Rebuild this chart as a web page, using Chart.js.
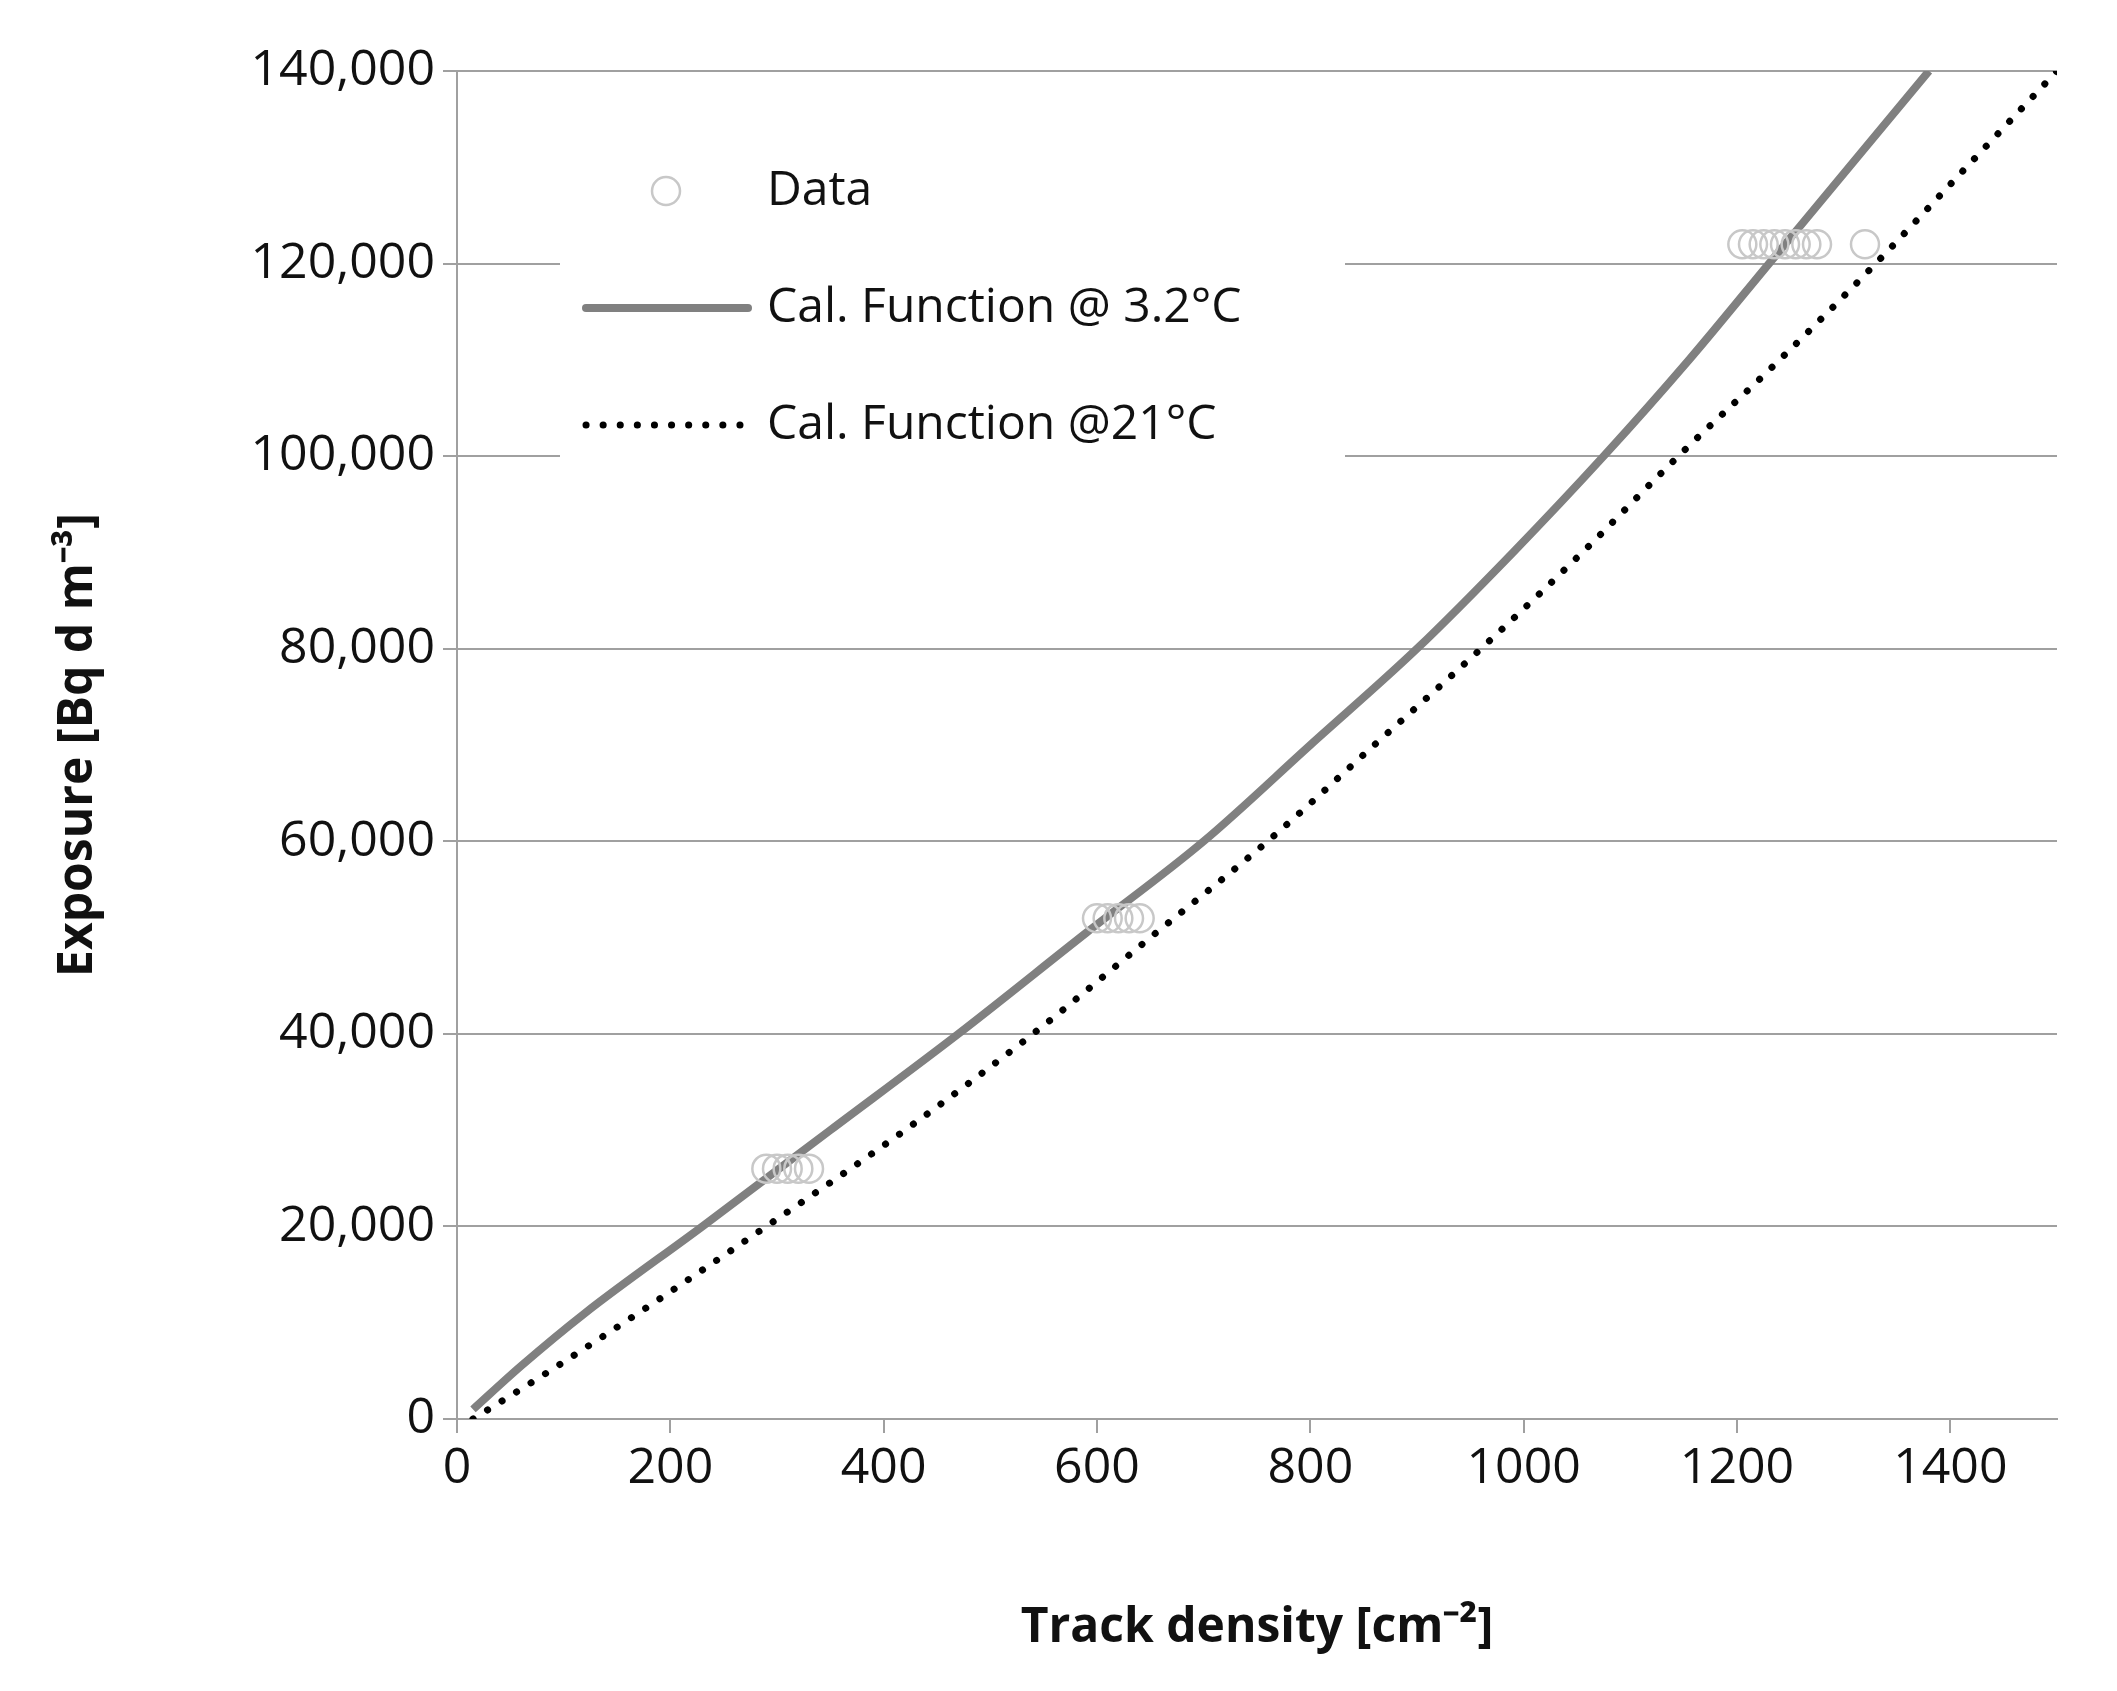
<!DOCTYPE html>
<html>
<head>
<meta charset="utf-8">
<script src="https://cdn.jsdelivr.net/npm/chart.js@4"></script>
<style>
html, body { margin: 0; padding: 0; background: #fff; }
#wrap { width: 2117px; height: 1691px; }
</style>
</head>
<body>
<div id="wrap"><canvas id="myChart" width="2117" height="1691"></canvas></div>
<script>
// calibration curves
const coldX = [15, 60, 120, 230, 350, 470, 590, 700, 800, 900, 990, 1075, 1155, 1230, 1305, 1380];
const coldY = [1000, 5500, 11000, 20000, 30000, 40000, 50500, 60000, 70000, 80000, 90000, 100000, 110000, 120000, 130000, 140000];
const warmX = [15, 80, 170, 290, 420, 540, 650, 760, 860, 960, 1055, 1145, 1240, 1330, 1415, 1500];
const warmY = [0, 4500, 11000, 20000, 30000, 40000, 50000, 60000, 70000, 80000, 90000, 100000, 110000, 120000, 130000, 140000];
const dataX = [290, 300, 310, 320, 330, 600, 610, 620, 630, 640, 1205, 1215, 1225, 1235, 1245, 1255, 1265, 1275, 1320];
const dataY = [26000, 26000, 26000, 26000, 26000, 52000, 52000, 52000, 52000, 52000, 122000, 122000, 122000, 122000, 122000, 122000, 122000, 122000, 122000];
const yTicks = [0, 20000, 40000, 60000, 80000, 100000, 120000, 140000];
const xTicks = [0, 200, 400, 600, 800, 1000, 1200, 1400];
const legendLabels = ['Data', 'Cal. Function @ 3.2°C', 'Cal. Function @21°C'];

const FONT = 'Open Sans, sans-serif';
const toPts = (xs, ys) => xs.map((x, i) => ({ x: x, y: ys[i] }));

const legendPlugin = {
    id: 'boxLegend',
    beforeDatasetsDraw(chart) {
        const c = chart.ctx;
        c.save();
        c.fillStyle = '#fff';
        c.fillRect(560, 128, 785, 350);
        c.font = '48px ' + FONT;
        c.fillStyle = '#111';
        c.textBaseline = 'middle';
        const rows = [191, 308, 425];
        legendLabels.forEach((t, i) => c.fillText(t, 767, rows[i]));
        c.strokeStyle = '#c8c8c8';
        c.lineWidth = 2.5;
        c.beginPath();
        c.arc(666, rows[0], 14, 0, Math.PI * 2);
        c.stroke();
        c.strokeStyle = '#808080';
        c.lineWidth = 8;
        c.lineCap = 'round';
        c.beginPath();
        c.moveTo(586, rows[1]);
        c.lineTo(748, rows[1]);
        c.stroke();
        c.strokeStyle = '#000';
        c.lineWidth = 7;
        c.setLineDash([0.1, 17]);
        c.beginPath();
        c.moveTo(586, rows[2]);
        c.lineTo(748, rows[2]);
        c.stroke();
        c.restore();
    },
};

new Chart(document.getElementById('myChart').getContext('2d'), {
    type: 'scatter',
    data: {
        datasets: [
            {
                label: legendLabels[0],
                data: toPts(dataX, dataY),
                pointStyle: 'circle',
                pointRadius: 14,
                borderWidth: 2.5,
                borderColor: '#c8c8c8',
                backgroundColor: 'rgba(0,0,0,0)',
                order: 0,
            },
            {
                label: legendLabels[1],
                data: toPts(coldX, coldY),
                showLine: true,
                cubicInterpolationMode: 'monotone',
                pointRadius: 0,
                borderColor: '#808080',
                borderWidth: 8,
                order: 1,
            },
            {
                label: legendLabels[2],
                data: toPts(warmX, warmY),
                showLine: true,
                cubicInterpolationMode: 'monotone',
                pointRadius: 0,
                borderColor: '#000',
                borderWidth: 7,
                borderCapStyle: 'round',
                borderDash: [0.1, 17],
                order: 2,
            },
        ],
    },
    options: {
        responsive: false,
        animation: false,
        layout: { padding: { top: 71, right: 60, bottom: 30, left: 0 } },
        plugins: { legend: { display: false }, tooltip: { enabled: false } },
        scales: {
            x: {
                type: 'linear',
                min: 0,
                max: 1500,
                afterBuildTicks: (ax) => { ax.ticks = xTicks.map((v) => ({ value: v })); },
                afterFit: (ax) => { ax.height = 242; },
                grid: { display: true, drawOnChartArea: false, color: '#a0a0a0', tickLength: 14, lineWidth: 2 },
                border: { color: '#a0a0a0', width: 2 },
                ticks: { color: '#111', font: { family: FONT, size: 50 }, padding: 6, maxRotation: 0, callback: (v) => String(v) },
                title: {
                    display: true,
                    text: 'Track density [cm\u207B\u00B2]',
                    color: '#111',
                    font: { family: FONT, size: 48, weight: 'bold' },
                    padding: { top: 60 },
                },
            },
            y: {
                min: 0,
                max: 140000,
                afterBuildTicks: (ax) => { ax.ticks = yTicks.map((v) => ({ value: v })); },
                afterFit: (ax) => { ax.width = 457; },
                grid: { color: '#a0a0a0', tickLength: 14, lineWidth: 2 },
                border: { color: '#a0a0a0', width: 2 },
                ticks: {
                    color: '#111',
                    font: { family: FONT, size: 50 },
                    padding: 8,
                    callback: (v) => v.toLocaleString('en-US'),
                },
                title: {
                    display: true,
                    text: 'Exposure [Bq d m\u207B\u00B3]',
                    color: '#111',
                    font: { family: FONT, size: 48, weight: 'bold' },
                    padding: { top: 50, bottom: 0 },
                },
            },
        },
    },
    plugins: [legendPlugin],
});
</script>
</body>
</html>
